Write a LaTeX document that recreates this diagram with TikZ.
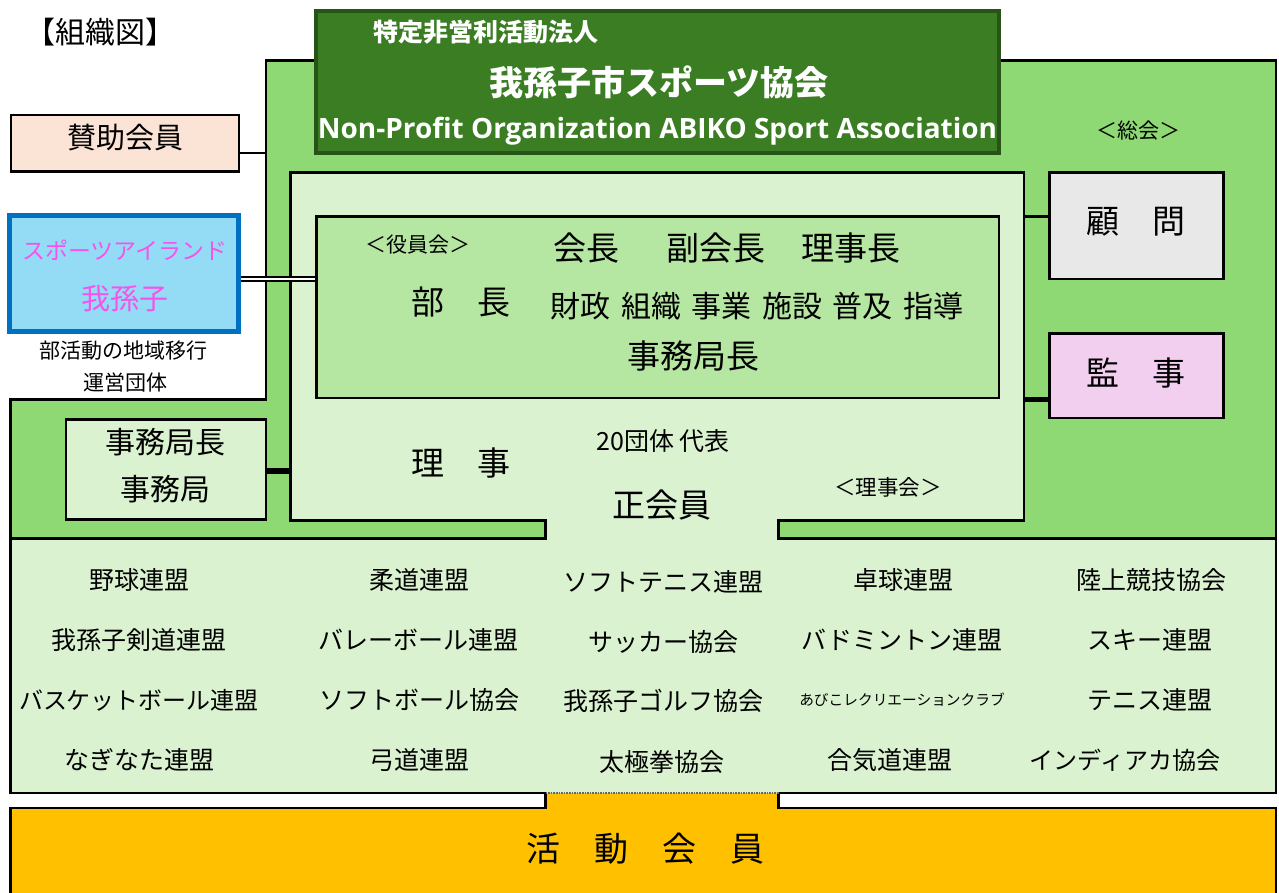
\documentclass[tikz,border=0pt]{standalone}
\usepackage{fontspec}
\usepackage{graphicx}
\setmainfont{Noto Sans CJK JP}
\newfontfamily\opensans{Open Sans}
\definecolor{outergreen}{HTML}{8ED973}
\definecolor{midgreen}{HTML}{B5E6A2}
\definecolor{lightgreen}{HTML}{DAF2D0}
\definecolor{titlegreen}{HTML}{3B7D23}
\definecolor{titleborder}{HTML}{275317}
\definecolor{peach}{HTML}{FBE3D6}
\definecolor{skyblue}{HTML}{94DBF6}
\definecolor{blueborder}{HTML}{0070C0}
\definecolor{pinktext}{HTML}{F553EC}
\definecolor{graybox}{HTML}{E8E8E8}
\definecolor{pinkbox}{HTML}{F2CEEF}
\definecolor{orangebox}{HTML}{FFC000}
\newcommand\fsz[1]{\fontsize{#1}{#1}\selectfont}
\begin{document}
\begin{tikzpicture}[x=1pt,y=-1pt,
  bline/.style={draw=black,line width=2.8pt},
  boxnode/.style={draw=black,line width=2.8pt,inner sep=0pt},
  txt/.style={inner sep=0pt,text=black},
  lst/.style={inner sep=0pt,text=black,font=\fsz{25}}]
\useasboundingbox (0,0) rectangle (1279,893);
\clip (0,0) rectangle (1279,893);
\fill[white] (0,0) rectangle (1279,893);
% outer green region
\fill[outergreen] (266,60.7) -- (1276,60.7) -- (1276,538.5) -- (10.7,538.5) -- (10.7,399.7) -- (266,399.7) -- cycle;
\draw[bline,line width=2.6pt] (266,60.7) -- (1276,60.7) -- (1276,538.5) -- (10.7,538.5) -- (10.7,399.7) -- (266,399.7) -- cycle;
% orange region
\fill[orangebox] (10.7,808) -- (545.5,808) -- (545.5,793) -- (778.7,793) -- (778.7,808) -- (1276,808) -- (1276,900) -- (10.7,900) -- cycle;
% light green council + list region
\fill[lightgreen] (290.5,172.4) -- (1024,172.4) -- (1024,520.5) -- (778.7,520.5) -- (778.7,538.5) -- (1276,538.5) -- (1276,793) -- (10.7,793) -- (10.7,538.5) -- (545.5,538.5) -- (545.5,520.5) -- (290.5,520.5) -- cycle;
\draw[bline] (778.7,793) -- (1276,793) -- (1276,538.5) -- (778.7,538.5) -- (778.7,520.5) -- (1024,520.5) -- (1024,172.4) -- (290.5,172.4) -- (290.5,520.5) -- (545.5,520.5) -- (545.5,538.5) -- (10.7,538.5) -- (10.7,793) -- (545.5,793);
\draw[bline] (545.5,793) -- (545.5,808) -- (10.7,808) -- (10.7,900);
\draw[bline] (778.7,793) -- (778.7,808) -- (1276,808) -- (1276,900);
\draw[black!60,line width=1.6pt,densely dotted] (545.5,793) -- (778.7,793);
% boxes
\node[draw=titleborder,fill=titlegreen,line width=3.5pt,inner sep=0pt,minimum width=683pt,minimum height=142pt] (title) at (657.5,82) {};
\node[boxnode,fill=peach,minimum width=228pt,minimum height=56.5pt] (sanjo) at (125,143.25) {};
\node[draw=blueborder,line width=4.5pt,fill=skyblue,inner sep=0pt,minimum width=229pt,minimum height=116pt] (island) at (124,273.5) {};
\node[boxnode,fill=midgreen,minimum width=682.3pt,minimum height=181.3pt] (yakuin) at (657.85,307.35) {};
\node[boxnode,fill=graybox,minimum width=174pt,minimum height=106.5pt] (komon) at (1136.5,225.75) {};
\node[boxnode,fill=pinkbox,minimum width=174pt,minimum height=84.5pt] (kanji) at (1136.5,375.75) {};
\node[boxnode,fill=lightgreen,minimum width=200pt,minimum height=100pt] (jimu) at (166,469.7) {};
% connectors
\coordinate (oL) at (266,153);
\draw[line width=2.2pt] (sanjo.east |- oL) -- (oL);
\coordinate (isl) at (240,279);
\draw[line width=2.3pt,double=white,double distance=2pt] (island.east |- isl) -- (yakuin.west |- isl);
\coordinate (innerR) at (1024,216.5);
\draw[line width=2.2pt] (innerR) -- (komon.west |- innerR);
\coordinate (innerRb) at (1024,399);
\draw[line width=5pt] (innerRb) -- (kanji.west |- innerRb);
\coordinate (innerL) at (290.5,470.5);
\draw[line width=6pt] (jimu.east |- innerL) -- (innerL);
% texts
\node[txt] (hdr) at (100,32) {\fsz{30}【組織図】};
\node[txt,text=white] (t1) at (486,32) {\fsz{25}\bfseries 特定非営利活動法人};
\node[txt,text=white] (t2) at (659,82) {\fsz{34}\bfseries 我孫子市スポーツ協会};
\node[txt,text=white] (t3) at (657.5,131) {\resizebox{679pt}{!}{\opensans\bfseries Non-Profit Organization ABIKO Sport Association}};
\node[txt] (soukai) at (1138,131) {\fsz{21}＜総会＞};
\node[txt] (sanjoT) at (125,138) {\fsz{29}賛助会員};
\node[txt,text=pinktext] (isl1) at (125,250) {\fsz{23}スポーツアイランド};
\node[txt,text=pinktext] (isl2) at (125,299) {\fsz{29}我孫子};
\node[txt] (sub1) at (123,351) {\fsz{21}部活動の地域移行};
\node[txt] (sub2) at (125,383) {\fsz{21}運営団体};
\node[txt] (yk) at (418,245) {\fsz{21}＜役員会＞};
\node[txt] (kaicho) at (586,248) {\fsz{33}会長};
\node[txt] (fuku) at (716,248) {\fsz{33}副会長};
\node[txt] (rijicho) at (851,248) {\fsz{33}理事長};
\node[txt] (bucho) at (461,302) {\fsz{33}部　長};
\node[txt] (zaisei) at (757,306) {\fsz{30}財政\hspace{.35em}組織\hspace{.35em}事業\hspace{.35em}施設\hspace{.35em}普及\hspace{.35em}指導};
\node[txt] (jmk) at (693,356) {\fsz{33}事務局長};
\node[txt] (dantai) at (663,441) {\fsz{25}20団体 代表};
\node[txt] (riji) at (461,463) {\fsz{33}理　事};
\node[txt] (rijikai) at (888,487) {\fsz{21.5}＜理事会＞};
\node[txt] (sei) at (662,505) {\fsz{33}正会員};
\node[txt] (komonT) at (1136,222) {\fsz{33}顧　問};
\node[txt] (kanjiT) at (1136,373) {\fsz{33}監　事};
\node[txt] (jimu1) at (165,442) {\fsz{30}事務局長};
\node[txt] (jimu2) at (165,489) {\fsz{30}事務局};
% list of member organisations
\node[lst] (a1) at (139,580) {野球連盟};
\node[lst] (a2) at (419,580) {柔道連盟};
\node[lst] (a3) at (663,582) {ソフトテニス連盟};
\node[lst] (a4) at (903,580) {卓球連盟};
\node[lst] (a5) at (1151,580) {陸上競技協会};
\node[lst] (b1) at (139,640) {我孫子剣道連盟};
\node[lst] (b2) at (418,640) {バレーボール連盟};
\node[lst] (b3) at (663,642) {サッカー協会};
\node[lst] (b4) at (902,640) {バドミントン連盟};
\node[lst] (b5) at (1150,640) {スキー連盟};
\node[lst,font=\fsz{24}] (c1) at (139,700) {バスケットボール連盟};
\node[lst] (c2) at (419,700) {ソフトボール協会};
\node[lst] (c3) at (663,701) {我孫子ゴルフ協会};
\node[txt] (c4) at (902,700) {\fsz{14.7}あびこレクリエーションクラブ};
\node[lst] (c5) at (1150,700) {テニス連盟};
\node[lst] (d1) at (139,760) {なぎなた連盟};
\node[lst] (d2) at (419,760) {弓道連盟};
\node[lst] (d3) at (662,762) {太極拳協会};
\node[lst] (d4) at (890,760) {合気道連盟};
\node[lst,font=\fsz{24}] (d5) at (1125,760) {インディアカ協会};
\node[txt] (katsudo) at (645,849) {\fsz{34}活　動　会　員};
\end{tikzpicture}
\end{document}
